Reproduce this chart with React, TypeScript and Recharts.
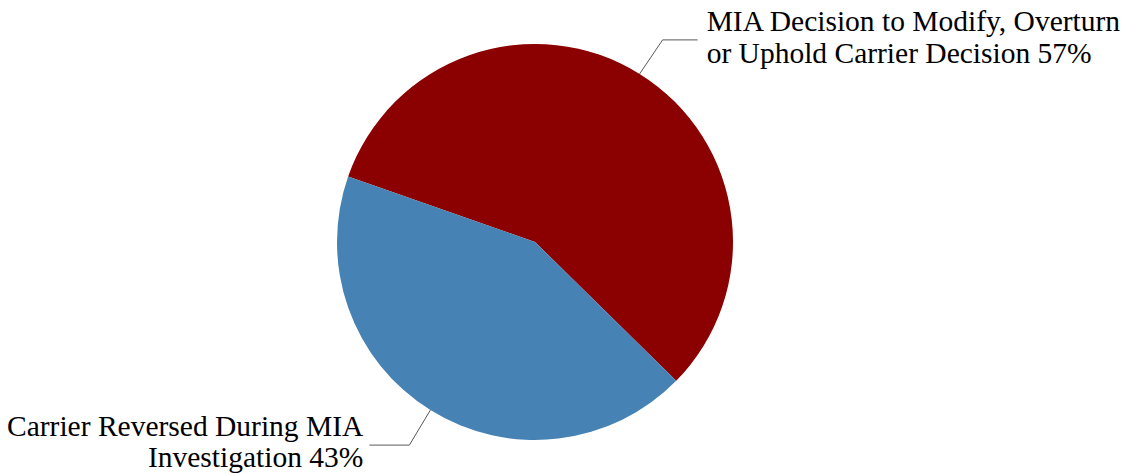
import { PieChart, Pie, Cell } from "recharts";

const categories = [
  "MIA Decision to Modify, Overturn or Uphold Carrier Decision",
  "Carrier Reversed During MIA Investigation",
];
const shares = [57, 43];
const labelLines = [
  ["MIA Decision to Modify, Overturn", "or Uphold Carrier Decision 57%"],
  ["Carrier Reversed During MIA", "Investigation 43%"],
];
const colors = ["#8B0000", "#4682B4"];

const data = categories.map((name, i) => ({ name, value: shares[i] }));

const RAD = Math.PI / 180;
const serif = "Liberation Serif, Times New Roman, serif";

function renderLabel(props: any) {
  const { cx, cy, midAngle, outerRadius, index } = props;
  const sx = cx + outerRadius * Math.cos(-midAngle * RAD);
  const sy = cy + outerRadius * Math.sin(-midAngle * RAD);
  const right = index === 0;
  const ex = right ? sx + 23 : sx - 21;
  const ey = right ? sy - 34 : sy + 35;
  const hx = right ? ex + 35 : ex - 40;
  const tx = right ? hx + 9 : hx - 6;
  const lines = labelLines[index];
  return (
    <g>
      <polyline
        points={`${sx},${sy} ${ex},${ey} ${hx},${ey}`}
        fill="none"
        stroke="#595959"
        strokeWidth={1}
      />
      <text
        textAnchor={right ? "start" : "end"}
        style={{ fontFamily: serif, fontSize: 29.5 }}
        fill="#000"
      >
        <tspan x={tx} y={ey - 9}>{lines[0]}</tspan>
        <tspan x={tx} y={ey + (right ? 23 : 22)}>{lines[1]}</tspan>
      </text>
    </g>
  );
}

export default function App() {
  return (
    <div style={{ position: "absolute", left: 0, top: 0, background: "#fff" }}>
      <PieChart width={1125} height={473} margin={{ top: 0, right: 0, bottom: 0, left: 0 }}>
        <Pie
          data={data}
          dataKey="value"
          nameKey="name"
          cx={535}
          cy={242}
          outerRadius={198}
          startAngle={160.7}
          endAngle={-199.3}
          stroke="none"
          label={renderLabel}
          labelLine={false}
          isAnimationActive={false}
        >
          {data.map((d, i) => (
            <Cell key={d.name} fill={colors[i]} />
          ))}
        </Pie>
      </PieChart>
    </div>
  );
}
